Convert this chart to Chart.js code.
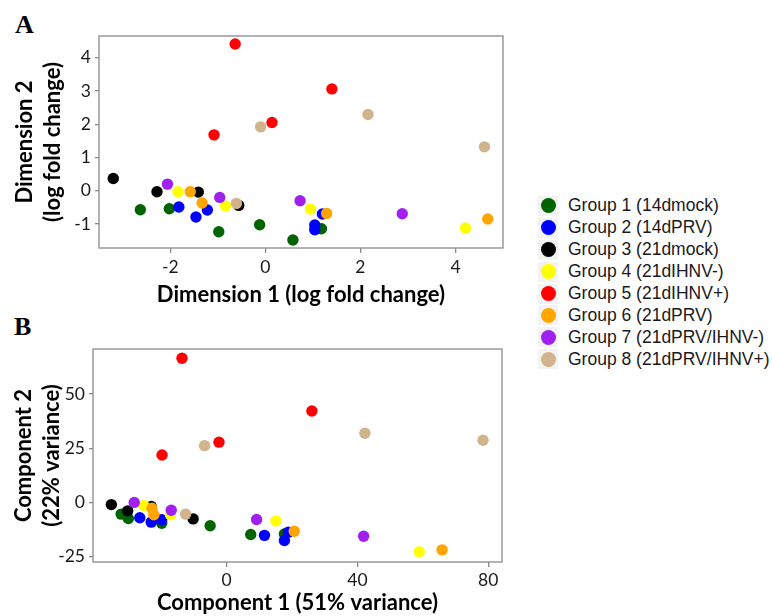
<!DOCTYPE html>
<html>
<head>
<meta charset="utf-8">
<script src="https://cdn.jsdelivr.net/npm/chart.js@4"></script>
<style>
  body { margin:0; width:772px; height:616px; background:#fff; position:relative; overflow:hidden; }
  .panel { position:absolute; font-family:"Liberation Serif","Times New Roman",serif; font-weight:bold; font-size:26px; color:#000; line-height:1; }
  #cA { position:absolute; left:0; top:0; }
  #cB { position:absolute; left:0; top:320px; }
  #legend { position:absolute; left:538px; top:195px; font-family:"Liberation Sans",Arial,sans-serif; font-size:17.5px; color:#1a1a1a; }
  .item { display:flex; align-items:center; height:21.9px; white-space:nowrap; }
  .sw { width:20px; height:20px; background:#f3f3f3; display:flex; align-items:center; justify-content:center; margin-right:10px; }
  .dot { width:15px; height:15px; border-radius:50%; }
</style>
</head>
<body>
<div class="panel" style="left:15px;top:12px">A</div>
<div class="panel" style="left:14px;top:314px">B</div>
<canvas id="cA" width="520" height="320"></canvas>
<canvas id="cB" width="520" height="296"></canvas>
<div id="legend"></div>

<script>
/* ============================================================
   Panel A: MDS (dimension 1 vs 2), Panel B: PCA (component 1 vs 2)
   ============================================================ */

const GROUPS = [
  'Group 1 (14dmock)', 'Group 2 (14dPRV)', 'Group 3 (21dmock)', 'Group 4 (21dIHNV-)',
  'Group 5 (21dIHNV+)', 'Group 6 (21dPRV)', 'Group 7 (21dPRV/IHNV-)', 'Group 8 (21dPRV/IHNV+)',
];
const COLORS = ['#006400', '#0000ff', '#000000', '#ffff00', '#ff0000', '#ffa500', '#a020f0', '#d2b48c'];

// ── Panel A values [dim1, dim2] ──────────────────────────────
const A_G1 = [[-2.63,-0.57], [-2.02,-0.54], [-0.98,-1.23], [-0.12,-1.02], [0.58,-1.48], [1.18,-1.14]];
const A_G2 = [[-1.82,-0.49], [-1.46,-0.79], [-1.22,-0.58], [1.20,-0.70], [1.04,-1.03], [1.04,-1.17]];
const A_G3 = [[-3.20,0.37], [-2.28,-0.03], [-1.41,-0.04], [-0.56,-0.44]];
const A_G4 = [[-1.84,-0.03], [-0.84,-0.46], [0.95,-0.55], [4.21,-1.12]];
const A_G5 = [[-0.635,4.41], [1.40,3.06], [0.14,2.05], [-1.08,1.68]];
const A_G6 = [[-1.58,-0.03], [-1.33,-0.37], [1.29,-0.68], [4.68,-0.85]];
const A_G7 = [[-2.06,0.20], [-0.96,-0.20], [0.73,-0.30], [2.88,-0.69]];
const A_G8 = [[-0.10,1.92], [2.16,2.29], [4.61,1.32], [-0.61,-0.38]];

// ── Panel B values [comp1, comp2] ────────────────────────────
const B_G1 = [[-32.2,-5.4], [-30.0,-7.4], [-19.8,-9.6], [-5.0,-10.8], [7.4,-14.8], [17.7,-14.6]];
const B_G2 = [[-26.5,-7.1], [-23.0,-9.1], [-19.8,-8.0], [11.6,-15.2], [18.9,-13.8], [17.7,-17.6]];
const B_G3 = [[-35.2,-1.0], [-30.2,-3.9], [-23.0,-1.9], [-10.2,-7.6]];
const B_G4 = [[-25.3,-1.4], [-17.1,-5.7], [15.1,-8.6], [58.9,-22.8]];
const B_G5 = [[-13.6,66.5], [26.1,42.2], [-2.3,27.8], [-19.7,21.9]];
const B_G6 = [[-22.8,-2.7], [-22.2,-5.7], [20.7,-13.3], [65.9,-21.9]];
const B_G7 = [[-28.2,0.0], [-16.9,-3.6], [9.2,-7.9], [41.9,-15.6]];
const B_G8 = [[-6.7,26.2], [42.3,31.9], [78.4,28.7], [-12.5,-5.4]];

const A_XTICKS = [-2, 0, 2, 4];
const A_YTICKS = [-1, 0, 1, 2, 3, 4];
const B_XTICKS = [0, 40, 80];
const B_YTICKS = [-25, 0, 25, 50];

const AXIS_GREY = '#8a8a8a';

// caja alrededor del área de trazado
const framePlugin = {
  id: 'frame',
  beforeDatasetsDraw(chart) {
    const { ctx, chartArea: a } = chart;
    ctx.save();
    ctx.strokeStyle = AXIS_GREY;
    ctx.lineWidth = 1.3;
    ctx.strokeRect(a.left, a.top, a.right - a.left, a.bottom - a.top);
    ctx.restore();
  },
};

function buildDatasets(groups) {
  return groups.map((pts, i) => ({
    label: GROUPS[i],
    data: pts.map(p => ({ x: p[0], y: p[1] })),
    backgroundColor: COLORS[i],
    borderWidth: 0,
    pointRadius: 5.7,
    order: -i,          // higher groups drawn on top
  }));
}

function makeScatter(id, groups, cfg) {
  return new Chart(document.getElementById(id), {
    type: 'scatter',
    data: { datasets: buildDatasets(groups) },
    plugins: [framePlugin],
    options: {
      responsive: false, animation: false,
      layout: { padding: { top: cfg.padTop, right: cfg.padRight, left: 0, bottom: 0 } },
      plugins: { legend: { display: false }, tooltip: { enabled: false } },
      scales: {
        x: {
          type: 'linear', min: cfg.xMin, max: cfg.xMax,
          afterBuildTicks: s => { s.ticks = cfg.xTicks.map(v => ({ value: v })); },
          afterFit: s => { s.height = cfg.xAxisH; },
          border: { display: false },
          grid: { drawOnChartArea: false, drawTicks: true, tickLength: 5, color: AXIS_GREY, lineWidth: 1.3 },
          ticks: { font: { family: 'Lato', size: 17.5 }, color: '#1a1a1a', padding: cfg.xTickPad, autoSkip: false, maxRotation: 0 },
          title: { display: true, text: cfg.xTitle, color: '#000',
                   font: { family: 'Lato', size: 22, weight: 'bold', lineHeight: 1.2 },
                   padding: { top: 0, bottom: cfg.xTitlePad } },
        },
        y: {
          type: 'linear', min: cfg.yMin, max: cfg.yMax,
          afterBuildTicks: s => { s.ticks = cfg.yTicks.map(v => ({ value: v })); },
          afterFit: s => { s.width = cfg.yAxisW; },
          border: { display: false },
          grid: { drawOnChartArea: false, drawTicks: true, tickLength: 4, color: AXIS_GREY, lineWidth: 1.3 },
          ticks: { font: { family: 'Lato', size: 17.5 }, color: '#1a1a1a', padding: cfg.yTickPad, autoSkip: false },
          title: { display: true, text: cfg.yTitle, color: '#000',
                   font: { family: 'Lato', size: 22, weight: 'bold', lineHeight: 1.3 },
                   padding: { top: cfg.yTitlePad, bottom: 0 } },
        },
      },
    },
  });
}

makeScatter('cA', [A_G1, A_G2, A_G3, A_G4, A_G5, A_G6, A_G7, A_G8], {
  xMin: -3.5, xMax: 5.0, yMin: -1.72, yMax: 4.65,
  xTicks: A_XTICKS, yTicks: A_YTICKS,
  padTop: 36, padRight: 17, yAxisW: 99, xAxisH: 72,
  xTickPad: 4, yTickPad: 4, xTitlePad: 12, yTitlePad: 10.5,
  xTitle: 'Dimension 1 (log fold change)',
  yTitle: ['Dimension 2', '(log fold change)'],
});

makeScatter('cB', [B_G1, B_G2, B_G3, B_G4, B_G5, B_G6, B_G7, B_G8], {
  xMin: -40.8, xMax: 84.2, yMin: -27.5, yMax: 70.8,
  xTicks: B_XTICKS, yTicks: B_YTICKS,
  padTop: 29, padRight: 18, yAxisW: 93, xAxisH: 54,
  xTickPad: 3, yTickPad: 4, xTitlePad: 0, yTitlePad: 9.5,
  xTitle: 'Component 1 (51% variance)',
  yTitle: ['Component 2', '(22% variance)'],
});

// ── Leyenda ──────────────────────────────────────────────────
const legend = document.getElementById('legend');
GROUPS.forEach((g, i) => {
  const row = document.createElement('div');
  row.className = 'item';
  row.innerHTML = `<span class="sw"><span class="dot" style="background:${COLORS[i]}"></span></span><span>${g}</span>`;
  legend.appendChild(row);
});
</script>
</body>
</html>
